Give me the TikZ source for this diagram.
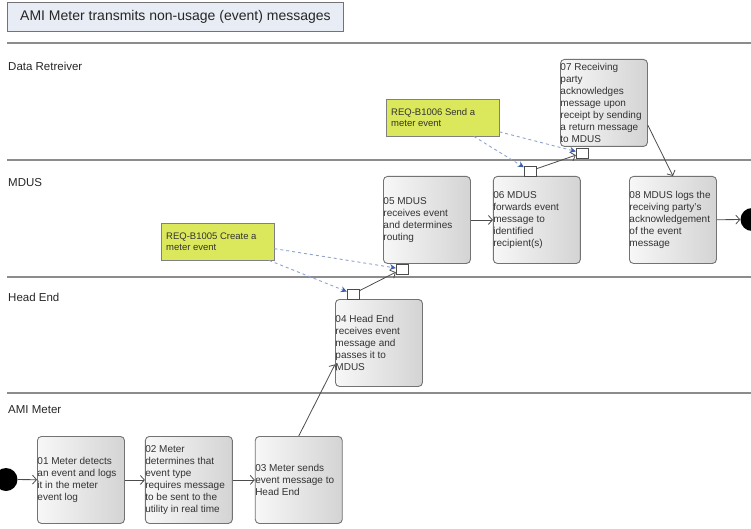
\documentclass[tikz,border=0pt]{standalone}
\usepackage{fontspec}
\setmainfont{Liberation Sans}
\usetikzlibrary{arrows.meta, positioning}

\definecolor{reqyellow}{HTML}{DCE85C}
\definecolor{titlefill}{HTML}{E8ECF5}
\definecolor{linkblue}{HTML}{8FA3CC}
\definecolor{tipblue}{HTML}{3A5DB0}

\newcommand{\actfont}{\fontsize{10}{11.9}\selectfont\hyphenpenalty=10000\relax}

\begin{document}
\begin{tikzpicture}[
        x=1pt, y=-1pt,
        node distance=20pt and 20pt,
        actbox/.style={rectangle, draw=black!55, line width=0.9pt, rounded corners=4pt, left color=black!3, right color=black!17, minimum width=87pt, minimum height=87pt, text width=87pt, inner xsep=0pt, inner ysep=1pt, align=flush left, font=\actfont, text=black!80},
        reqnote/.style={rectangle, draw=black!50, fill=reqyellow, minimum width=113pt, minimum height=37pt, text width=103pt, inner sep=5pt, align=flush left, font=\fontsize{9.5}{11}\selectfont, text=black!80},
        lanename/.style={anchor=west, inner sep=0pt, font=\fontsize{11.5}{13}\selectfont, text=black!85},
        port/.style={rectangle, draw=black!70, fill=white, minimum width=12pt, minimum height=10pt, inner sep=0pt},
        endpoint/.style={circle, fill=black, minimum size=23pt, inner sep=0pt},
        laneline/.style={draw=black!45, line width=1.2pt},
        flow/.style={draw=black!70, line width=0.8pt, -{Straight Barb[length=4pt, width=9pt]}},
        reqlink/.style={draw=linkblue, dashed, line width=0.9pt, -{Stealth[length=6pt, width=6pt, color=tipblue]}}
    ]
    \useasboundingbox (0,0) rectangle (751,529);

    % Title and swimlanes
    \node[rectangle, draw=black!55, line width=0.9pt, fill=titlefill, anchor=north west, minimum width=336pt, minimum height=29pt, font=\fontsize{14}{16}\selectfont, text=black!85] (title) at (7,2) {AMI Meter transmits non-usage (event) messages};
    \foreach \ly in {43,160,277,393}
        \draw[laneline] (7,\ly) -- (751,\ly);
    \node[lanename] (laneData) at (8,66) {Data Retreiver};
    \node[lanename] (laneMdus) at (8,183) {MDUS};
    \node[lanename] (laneHead) at (8,297) {Head End};
    \node[lanename] (laneMeter) at (8,410) {AMI Meter};

    % Activity nodes
    \node[endpoint] (start) at (6,479.5) {};
    \node[actbox, anchor=north west] (n01) at (37,436) {01 Meter detects\\an event and logs\\it in the meter\\event log};
    \node[actbox, right=20pt of n01] (n02) {02 Meter\\determines that\\event type\\requires message\\to be sent to the\\utility in real time};
    \node[actbox, right=22pt of n02] (n03) {03 Meter sends\\event message to\\Head End};
    \node[actbox, anchor=north west] (n04) at (335,299) {04 Head End\\receives event\\message and\\passes it to\\MDUS};
    \node[actbox, anchor=north west] (n05) at (383,176) {05 MDUS\\receives event\\and determines\\routing};
    \node[actbox, right=22pt of n05] (n06) {06 MDUS\\forwards event\\message to\\identified\\recipient(s)};
    \node[actbox, anchor=north west] (n07) at (560,59) {07 Receiving\\party\\acknowledges\\message upon\\receipt by sending\\a return message\\to MDUS};
    \node[actbox, anchor=north west] (n08) at (629,176) {08 MDUS logs the\\receiving party's\\acknowledgement\\of the event\\message};
    \node[endpoint] (finish) at (752,219.5) {};

    % Ports
    \node[port] (p04) at (353,294) {};
    \node[port] (p05) at (402,269) {};
    \node[port] (p06) at (530,171) {};
    \node[port] (p07) at (582,153) {};

    % Requirement notes
    \node[reqnote, anchor=north west] (r1005) at (161,223) {REQ-B1005 Create a\\meter event};
    \node[reqnote, anchor=north west] (r1006) at (386,99) {REQ-B1006 Send a\\meter event};

    % Arrows
    \draw[flow] (start) -- (n01);
    \draw[flow] (n01) -- (n02);
    \draw[flow] (n02) -- (n03);
    \draw[flow] (n03.north) -- (n04.206);
    \draw[flow] (p04) -- (p05);
    \draw[flow] (n05) -- (n06);
    \draw[flow] (p06) -- (p07);
    \draw[flow] (n07.-27) -- (n08.north);
    \draw[flow] (n08) -- (finish);

    \draw[reqlink] (r1005.-7) -- (p05);
    \draw[reqlink] (r1005.-20) -- (p04);
    \draw[reqlink] (r1006.-14) -- (p07);
    \draw[reqlink] (r1006.-31) -- (p06);

    \end{tikzpicture}
\end{document}
